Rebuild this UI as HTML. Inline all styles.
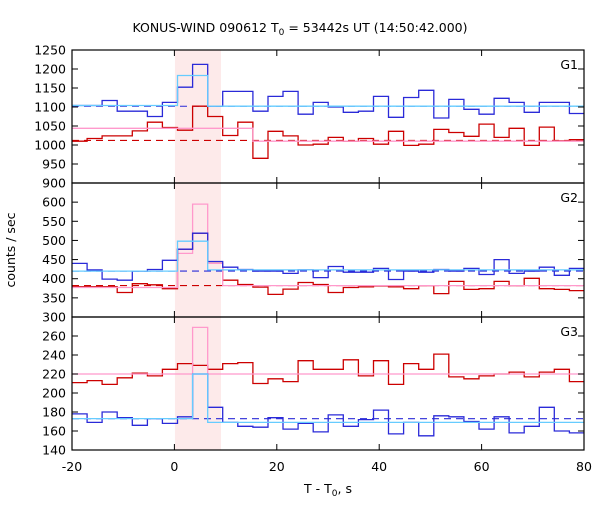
<!DOCTYPE html>
<html><head><meta charset="utf-8"><style>
body{margin:0;background:#fff}
svg text{font-family:"DejaVu Sans","Liberation Sans",sans-serif;font-size:12.5px;fill:#000}
</style></head><body>
<svg id="chart" width="600" height="500" xmlns="http://www.w3.org/2000/svg"></svg>
<script>
const xTicks=[-20,0,20,40,60,80];
const binStart=-20, binWidth=2.944;
const shadeRange=[0.1,9.1];
const g1Ticks=[900,950,1000,1050,1100,1150,1200,1250];
const g2Ticks=[300,350,400,450,500,550,600];
const g3Ticks=[140,160,180,200,220,240,260];
const g1Blue=[1104,1104,1117,1089,1089,1075,1112,1152,1212,1102,1141,1141,1089,1128,1141,1081,1112,1100,1086,1089,1128,1073,1125,1144,1071,1120,1094,1081,1123,1112,1086,1112,1112,1083];
const g1Red=[1010,1017,1024,1024,1037,1060,1046,1039,1102,1075,1025,1060,965,1036,1024,1000,1002,1020,1010,1017,1002,1036,999,1002,1041,1033,1023,1055,1020,1044,999,1047,1011,1014];
const g2Blue=[440,423,399,396,420,424,448,477,519,445,430,424,420,420,414,423,403,432,417,417,427,398,420,417,424,420,427,411,450,414,420,430,409,427];
const g2Red=[379,379,379,364,387,384,374,477,519,440,396,385,378,359,373,390,385,364,377,379,381,379,374,382,361,393,372,374,393,382,401,374,372,369];
const g3Blue=[178,169,180,174,166,173,168,175,220,185,169,165,164,174,162,168,159,177,165,172,182,157,169,155,176,175,170,162,175,158,165,185,160,158];
const g3Red=[211,213,209,216,221,218,225,231,229,225,231,232,210,215,212,234,225,225,235,218,234,209,231,225,241,217,215,218,220,222,217,222,225,212];
// model segments: [startBin, endBin(exclusive), value]
const g1Cyan=[[0,7,1104],[7,9,1183],[9,34,1102]];
const g1Pink=[[0,12,1044],[12,34,1010]];
const g2Cyan=[[0,7,420],[7,9,498],[9,34,423]];
const g2Pink=[[0,7,377],[7,8,466],[8,9,595],[9,10,440],[10,34,382]];
const g3Cyan=[[0,8,173],[8,9,220],[9,34,169]];
const g3Pink=[[0,8,220],[8,9,269],[9,34,220]];
const g1Dash=[[1102,'#2a2ad8'],[1012,'#cc0000']];
const g2Dash=[[420,'#2a2ad8'],[382,'#cc0000']];
const g3Dash=[[173,'#2a2ad8']];

const NS='http://www.w3.org/2000/svg';
const svg=document.getElementById('chart');
const X0=72,X1=584,XMIN=-20,XMAX=80;
const xs=t=>X0+(t-XMIN)/(XMAX-XMIN)*(X1-X0);
const edge=k=>binStart+k*binWidth;
function el(tag,attrs,parent){const e=document.createElementNS(NS,tag);for(const k in attrs)e.setAttribute(k,attrs[k]);(parent||svg).appendChild(e);return e;}
function clampT(t){return Math.min(XMAX,Math.max(XMIN,t));}
const panels=[
 {name:'g1',top:50,bot:183,min:900,max:1250,ticks:g1Ticks,blue:g1Blue,red:g1Red,cyan:g1Cyan,pink:g1Pink,dash:g1Dash,label:'G1'},
 {name:'g2',top:183,bot:317,min:300,max:650,ticks:g2Ticks,blue:g2Blue,red:g2Red,cyan:g2Cyan,pink:g2Pink,dash:g2Dash,label:'G2'},
 {name:'g3',top:317,bot:450,min:140,max:280,ticks:g3Ticks,blue:g3Blue,red:g3Red,cyan:g3Cyan,pink:g3Pink,dash:g3Dash,label:'G3'}
];
const sh=el('rect',{x:xs(shadeRange[0]),y:50,width:xs(shadeRange[1])-xs(shadeRange[0]),height:400,fill:'#fdeaea'});


panels.forEach(p=>{
 const ys=v=>p.bot-(v-p.min)/(p.max-p.min)*(p.bot-p.top);
 const g=el('g',{});
 
 
 function stepPath(vals){let d='';vals.forEach((v,i)=>{const a=xs(clampT(edge(i))),b=xs(clampT(edge(i+1)));const y=ys(v);d+=(i===0?'M':'L')+a.toFixed(1)+','+y.toFixed(1)+'L'+b.toFixed(1)+','+y.toFixed(1);});return d;}
 function segPath(segs){let d='';segs.forEach((s,i)=>{const a=xs(clampT(edge(s[0]))),b=xs(clampT(edge(s[1])));const y=ys(s[2]);d+=(i===0?'M':'L')+a.toFixed(1)+','+y.toFixed(1)+'L'+b.toFixed(1)+','+y.toFixed(1);});return d;}
 p.dash.forEach(dd=>{const l=el('line',{x1:X0,x2:X1,y1:ys(dd[0]),y2:ys(dd[0]),stroke:dd[1],'stroke-width':1.1,'stroke-dasharray':'7,5'},g);
  
  });
 const r=el('path',{d:stepPath(p.red),fill:'none',stroke:'#cc0000','stroke-width':1.3},g);
 
 
 const pk=el('path',{d:segPath(p.pink),fill:'none',stroke:'#ff99cc','stroke-width':1.3},g);
 
 
 const b=el('path',{d:stepPath(p.blue),fill:'none',stroke:'#2a2ad8','stroke-width':1.3},g);
 
 
 const c=el('path',{d:segPath(p.cyan),fill:'none',stroke:'#66ccff','stroke-width':1.3},g);
 
 
 const bd=el('rect',{x:X0,y:p.top,width:X1-X0,height:p.bot-p.top,fill:'none',stroke:'#000','stroke-width':1.2},g);
 
 
 p.ticks.forEach(v=>{const y=ys(v);
  el('line',{x1:X0,x2:X0+6,y1:y,y2:y,stroke:'#000'},g);el('line',{x1:X1-6,x2:X1,y1:y,y2:y,stroke:'#000'},g);
  const t=el('text',{x:X0-6,y:y+4.5,'text-anchor':'end'},g);t.textContent=v;
  
  });
 xTicks.forEach(v=>{const x=xs(v);el('line',{x1:x,x2:x,y1:p.top,y2:p.top+6,stroke:'#000'},g);el('line',{x1:x,x2:x,y1:p.bot-6,y2:p.bot,stroke:'#000'},g);});
 const lb=el('text',{x:578,y:p.top+19,'text-anchor':'end'},g);lb.textContent=p.label;
 
 
});
xTicks.forEach(v=>{const t=el('text',{x:xs(v),y:471,'text-anchor':'middle'});t.textContent=v;
 
 });
</script>
<svg width="600" height="500" style="position:absolute;left:0;top:0">
<text x="300" y="32" text-anchor="middle">KONUS-WIND 090612 T<tspan font-size="9" dy="3">0</tspan><tspan dy="-3"> = 53442s UT (14:50:42.000)</tspan></text>
<text x="328" y="493" text-anchor="middle">T - T<tspan font-size="9" dy="3">0</tspan><tspan dy="-3">, s</tspan></text>
<text x="15" y="250" text-anchor="middle" transform="rotate(-90 15 250)">counts / sec</text>
</svg>
</body></html>
